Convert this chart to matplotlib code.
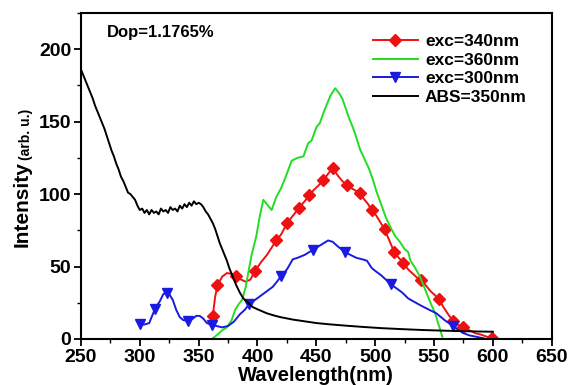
import matplotlib
matplotlib.use("Agg")
import matplotlib.pyplot as plt
from matplotlib.ticker import MultipleLocator

plt.rcParams["font.family"] = ["Liberation Sans", "DejaVu Sans"]
plt.rcParams["font.weight"] = "bold"

# exc=340nm (red, diamonds)
RED_WL = [362, 364, 366, 370, 374, 378, 382, 386, 390, 394,
          398, 403, 408, 412, 416, 420, 425, 430, 435, 440,
          444, 448, 452, 456, 460, 464, 468, 472, 476, 480,
          484, 487, 490, 494, 497, 501, 504, 508, 512, 516,
          520, 524, 528, 532, 536, 539, 543, 547, 551, 554,
          558, 562, 566, 570, 575, 580, 585, 590, 595, 599]
RED_Y = [16, 29, 37, 43, 45.5, 45, 43.4, 41, 39.5, 41,
         47, 53, 58, 63, 68.3, 72, 79.8, 85, 90.1, 95,
         99.1, 103, 106, 109.7, 114, 118.1, 113, 109, 106.2, 104,
         102, 100.5, 97, 93, 89, 85, 81, 75.6, 68, 60.2,
         56, 52.6, 48, 45, 42, 40.7, 37, 33, 30, 27.4,
         22, 17, 12.6, 10, 8, 6, 4, 3, 1.5, 0.5]
RED_MARKS = [362, 366, 382, 398, 416, 425, 435, 444, 456, 464, 476,
             487, 497, 508, 516, 524, 539, 554, 566, 575, 599]

# exc=360nm (green, no markers)
GREEN_WL = [362, 366, 370, 374, 378, 381, 384, 387, 390, 392,
            395, 399, 402, 405, 408, 412, 416, 420, 424, 429,
            434, 439, 443, 446, 450, 453, 456, 459, 462, 466,
            469, 472, 475, 478, 481, 484, 487, 491, 495, 498,
            501, 505, 509, 513, 517, 521, 525, 528, 530, 534,
            538, 542, 545, 548, 551, 553, 555, 557]
GREEN_Y = [0.5, 3, 6, 8, 13, 20, 24, 27, 36, 45,
           58, 71, 85, 96, 93, 89, 98, 104, 112, 123,
           125, 126, 135, 137, 146, 149, 156, 162, 168, 173,
           170, 166, 159, 152, 146, 139, 131, 124, 117, 110,
           102, 93, 84, 77, 71, 67, 62, 60, 54, 49,
           43, 35, 29, 23, 17.7, 12, 7, 1.5]

# exc=300nm (blue, down triangles)
BLUE_WL = [300, 304, 308, 313, 317, 320, 323, 325, 328, 331,
           334, 337, 341, 345, 348, 351, 354, 357, 361, 365,
           370, 375, 380, 385, 389, 393, 398, 403, 408, 413,
           417, 420, 425, 430, 434, 440, 447, 452, 456, 460,
           464, 468, 474, 479, 484, 489, 493, 497, 500, 505,
           509, 513, 518, 523, 528, 533, 539, 545, 552, 559,
           566, 571, 575, 580, 586, 592]
BLUE_Y = [10, 10, 11, 21, 26, 31, 32, 31, 27, 20,
          15, 13, 12.6, 14, 16, 15.9, 14, 11, 9.7, 9,
          8, 9, 12, 17, 20, 24, 27, 30, 33, 36,
          40, 43.4, 48, 55, 56, 58, 61.5, 64, 66, 68,
          67, 64, 60.2, 58, 56, 55, 54, 49, 47, 44,
          41, 37.7, 35, 32, 28, 25.7, 23, 20.5, 17.7, 13,
          9, 6, 4, 2.5, 1.5, 0.5]
BLUE_MARKS = [300, 313, 323, 341, 361, 393, 420, 447, 474, 513, 566]

# ABS=350nm (black)
ABS_WL = [250, 252, 254, 256, 258, 260, 262, 264, 266, 268,
          270, 272, 274, 276, 278, 280, 282, 284, 286, 288,
          290, 292, 294, 296, 298, 300, 302, 304, 306, 308,
          310, 312, 314, 316, 318, 320, 322, 324, 326, 328,
          330, 332, 334, 336, 338, 340, 342, 344, 346, 348,
          350, 352, 354, 356, 358, 360, 362, 364, 366, 368,
          370, 372, 374, 376, 378, 380, 382, 385, 388, 392,
          396, 400, 408, 415, 420, 430, 440, 450, 460, 475,
          490, 505, 520, 540, 560, 580, 600]
ABS_Y = [186, 182, 178, 174, 170, 166, 161, 157, 153, 149,
         145, 140, 135, 130, 126, 121, 117, 112, 109, 105,
         101, 100, 98, 96, 92, 89, 90, 87, 89, 86,
         89, 87, 88, 86, 90, 88, 89, 87, 91, 89,
         90, 88, 92, 90, 93, 91, 94, 92, 95, 93,
         94, 93, 91, 88, 86, 83, 80, 76, 71, 66,
         62, 58, 54, 49, 45, 41, 37, 32, 28, 25,
         22, 20.5, 17.7, 16, 15, 13.4, 12.2, 11, 10.2, 9.2,
         8.3, 7.5, 6.9, 6.2, 5.7, 5.3, 5.0]

fig = plt.figure(figsize=(5.7, 3.85), dpi=100)
ax = fig.add_axes([0.142, 0.1195, 0.826, 0.847])

# Series
ax.plot(RED_WL, RED_Y, color="#ee1111", lw=1.4, marker="D", ms=6,
        markevery=[RED_WL.index(w) for w in RED_MARKS], label="exc=340nm")
ax.plot(GREEN_WL, GREEN_Y, color="#22dd22", lw=1.4, label="exc=360nm")
ax.plot(BLUE_WL, BLUE_Y, color="#1a1ae0", lw=1.4, marker="v", ms=7,
        markevery=[BLUE_WL.index(w) for w in BLUE_MARKS], label="exc=300nm")
ax.plot(ABS_WL, ABS_Y, color="black", lw=1.4, label="ABS=350nm")

# Axes
ax.set_xlim(250, 650)
ax.set_ylim(0, 225)
ax.xaxis.set_major_locator(MultipleLocator(50))
ax.xaxis.set_minor_locator(MultipleLocator(25))
ax.yaxis.set_major_locator(MultipleLocator(50))
ax.yaxis.set_minor_locator(MultipleLocator(25))
ax.tick_params(which="major", direction="out", length=5, width=1.3,
               labelsize=14, pad=2)
ax.tick_params(which="minor", direction="out", length=3, width=1.0)
for sp in ax.spines.values():
    sp.set_linewidth(1.5)

ax.set_xlabel("Wavelength(nm)", fontsize=14.5, fontweight="bold", labelpad=0)
fig.text(0.038, 0.358, "Intensity", rotation=90, ha="center", va="bottom",
         fontsize=15, fontweight="bold")
fig.text(0.045, 0.585, "(arb. u.)", rotation=90, ha="center", va="bottom",
         fontsize=10, fontweight="bold")

ax.text(0.055, 0.94, "Dop=1.1765%", transform=ax.transAxes, fontsize=12,
        fontweight="bold", va="center")

# Legend
ax.legend(loc="upper left", bbox_to_anchor=(0.62, 0.935), frameon=False,
          fontsize=12.5, handlelength=2.6, handletextpad=0.4, labelspacing=0.2,
          borderpad=0, borderaxespad=0, numpoints=1)

plt.savefig("out.png", dpi=100)
